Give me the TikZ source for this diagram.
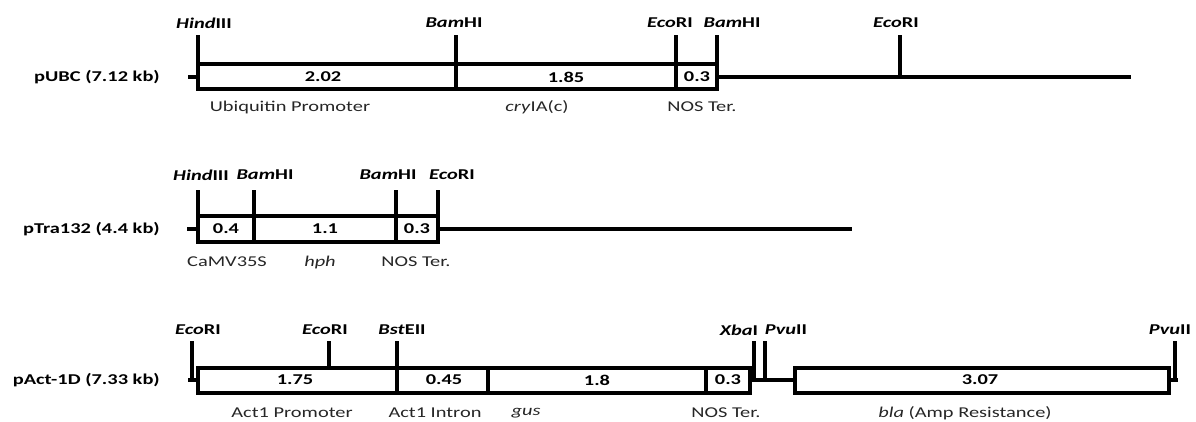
\documentclass[tikz,border=0pt]{standalone}
\usepackage{fontspec}
\setmainfont{Carlito}[FakeStretch=1.36]
\begin{document}
\begin{tikzpicture}[x=1pt,y=-1pt,
  lw/.style={line width=3.1pt, line join=miter},
  cut/.style={font=\fontsize{15}{17}\selectfont\bfseries, inner sep=0pt},
  num/.style={font=\fontsize{15}{17}\selectfont\bfseries, inner sep=0pt},
  feat/.style={font=\fontsize{15}{17}\selectfont, text=black!85, inner sep=0pt},
  rowlbl/.style={font=\fontsize{15}{17}\selectfont\bfseries, anchor=east, inner sep=0pt}]
\useasboundingbox (0,0) rectangle (1196,421);

% ---------- Row 1: pUBC ----------
\node[rowlbl] (r1) at (160,77) {pUBC (7.12 kb)};
\draw[lw] (188,77) -- (198,77);
\draw[lw] (198,64) rectangle (717,89);
\draw[lw] (456,64) -- (456,89);
\draw[lw] (676,64) -- (676,89);
\draw[lw] (198,35) -- (198,64);
\draw[lw] (456,35) -- (456,64);
\draw[lw] (676,35) -- (676,64);
\draw[lw] (717,35) -- (717,64);
\draw[lw] (717,77) -- (1131,77);
\draw[lw] (900,35) -- (900,77);
\node[cut] (c11) at (204,23) {\textit{Hind}III};
\node[cut] (c12) at (454,23) {\textit{Bam}HI};
\node[cut] (c13) at (670,23) {\textit{Eco}RI};
\node[cut] (c14) at (732,23) {\textit{Bam}HI};
\node[cut] (c15) at (896,23) {\textit{Eco}RI};
\node[num] (n11) at (323,77) {2.02};
\node[num] (n12) at (566,77) {1.85};
\node[num] (n13) at (697,77) {0.3};
\node[feat] (f11) at (290,107) {Ubiquitin Promoter};
\node[feat] (f12) at (537,107) {\textit{cry}IA(c)};
\node[feat] (f13) at (702,107) {NOS Ter.};

% ---------- Row 2: pTra132 ----------
\node[rowlbl] (r2) at (160,229) {pTra132 (4.4 kb)};
\draw[lw] (187,229) -- (198,229);
\draw[lw] (198,216) rectangle (438,242);
\draw[lw] (254,216) -- (254,242);
\draw[lw] (396,216) -- (396,242);
\draw[lw] (198,190) -- (198,216);
\draw[lw] (254,190) -- (254,216);
\draw[lw] (396,190) -- (396,216);
\draw[lw] (438,190) -- (438,216);
\draw[lw] (438,229) -- (852,229);
\node[cut] (c21) at (201,175) {\textit{Hind}III};
\node[cut] (c22) at (265,175) {\textit{Bam}HI};
\node[cut] (c23) at (388,175) {\textit{Bam}HI};
\node[cut] (c24) at (452,175) {\textit{Eco}RI};
\node[num] (n21) at (226,229) {0.4};
\node[num] (n22) at (325,229) {1.1};
\node[num] (n23) at (417,229) {0.3};
\node[feat] (f21) at (227,262) {CaMV35S};
\node[feat] (f22) at (320,262) {\textit{hph}};
\node[feat] (f23) at (416,262) {NOS Ter.};

% ---------- Row 3: pAct-1D ----------
\node[rowlbl] (r3) at (160,380) {pAct-1D (7.33 kb)};
\draw[lw] (188,380) -- (198,380);
\draw[lw] (192,341) -- (192,380);
\draw[lw] (198,368) rectangle (750,393);
\draw[lw] (397,368) -- (397,393);
\draw[lw] (488,368) -- (488,393);
\draw[lw] (706,368) -- (706,393);
\draw[lw] (329,341) -- (329,368);
\draw[lw] (397,341) -- (397,368);
\draw[lw] (750,380) -- (795,380);
\draw[lw] (754,341) -- (754,380);
\draw[lw] (765,341) -- (765,380);
\draw[lw] (795,368) rectangle (1169,393);
\draw[lw] (1169,380) -- (1178,380);
\draw[lw] (1175,341) -- (1175,380);
\node[cut] (c31) at (198,330) {\textit{Eco}RI};
\node[cut] (c32) at (325,330) {\textit{Eco}RI};
\node[cut] (c33) at (402,330) {\textit{Bst}EII};
\node[cut] (c34) at (739,330) {\textit{Xba}I};
\node[cut] (c35) at (786,330) {\textit{Pvu}II};
\node[cut] (c36) at (1170,330) {\textit{Pvu}II};
\node[num] (n31) at (295,380) {1.75};
\node[num] (n32) at (444,380) {0.45};
\node[num] (n33) at (597,380) {1.8};
\node[num] (n34) at (728,380) {0.3};
\node[num] (n35) at (980,380) {3.07};
\node[feat] (f31) at (292,413) {Act1 Promoter};
\node[feat] (f32) at (435,413) {Act1 Intron};
\node[feat] (f33) at (526,413) {\textit{gus}};
\node[feat] (f34) at (726,413) {NOS Ter.};
\node[feat] (f35) at (965,413) {\textit{bla} (Amp Resistance)};
\end{tikzpicture}
\end{document}
